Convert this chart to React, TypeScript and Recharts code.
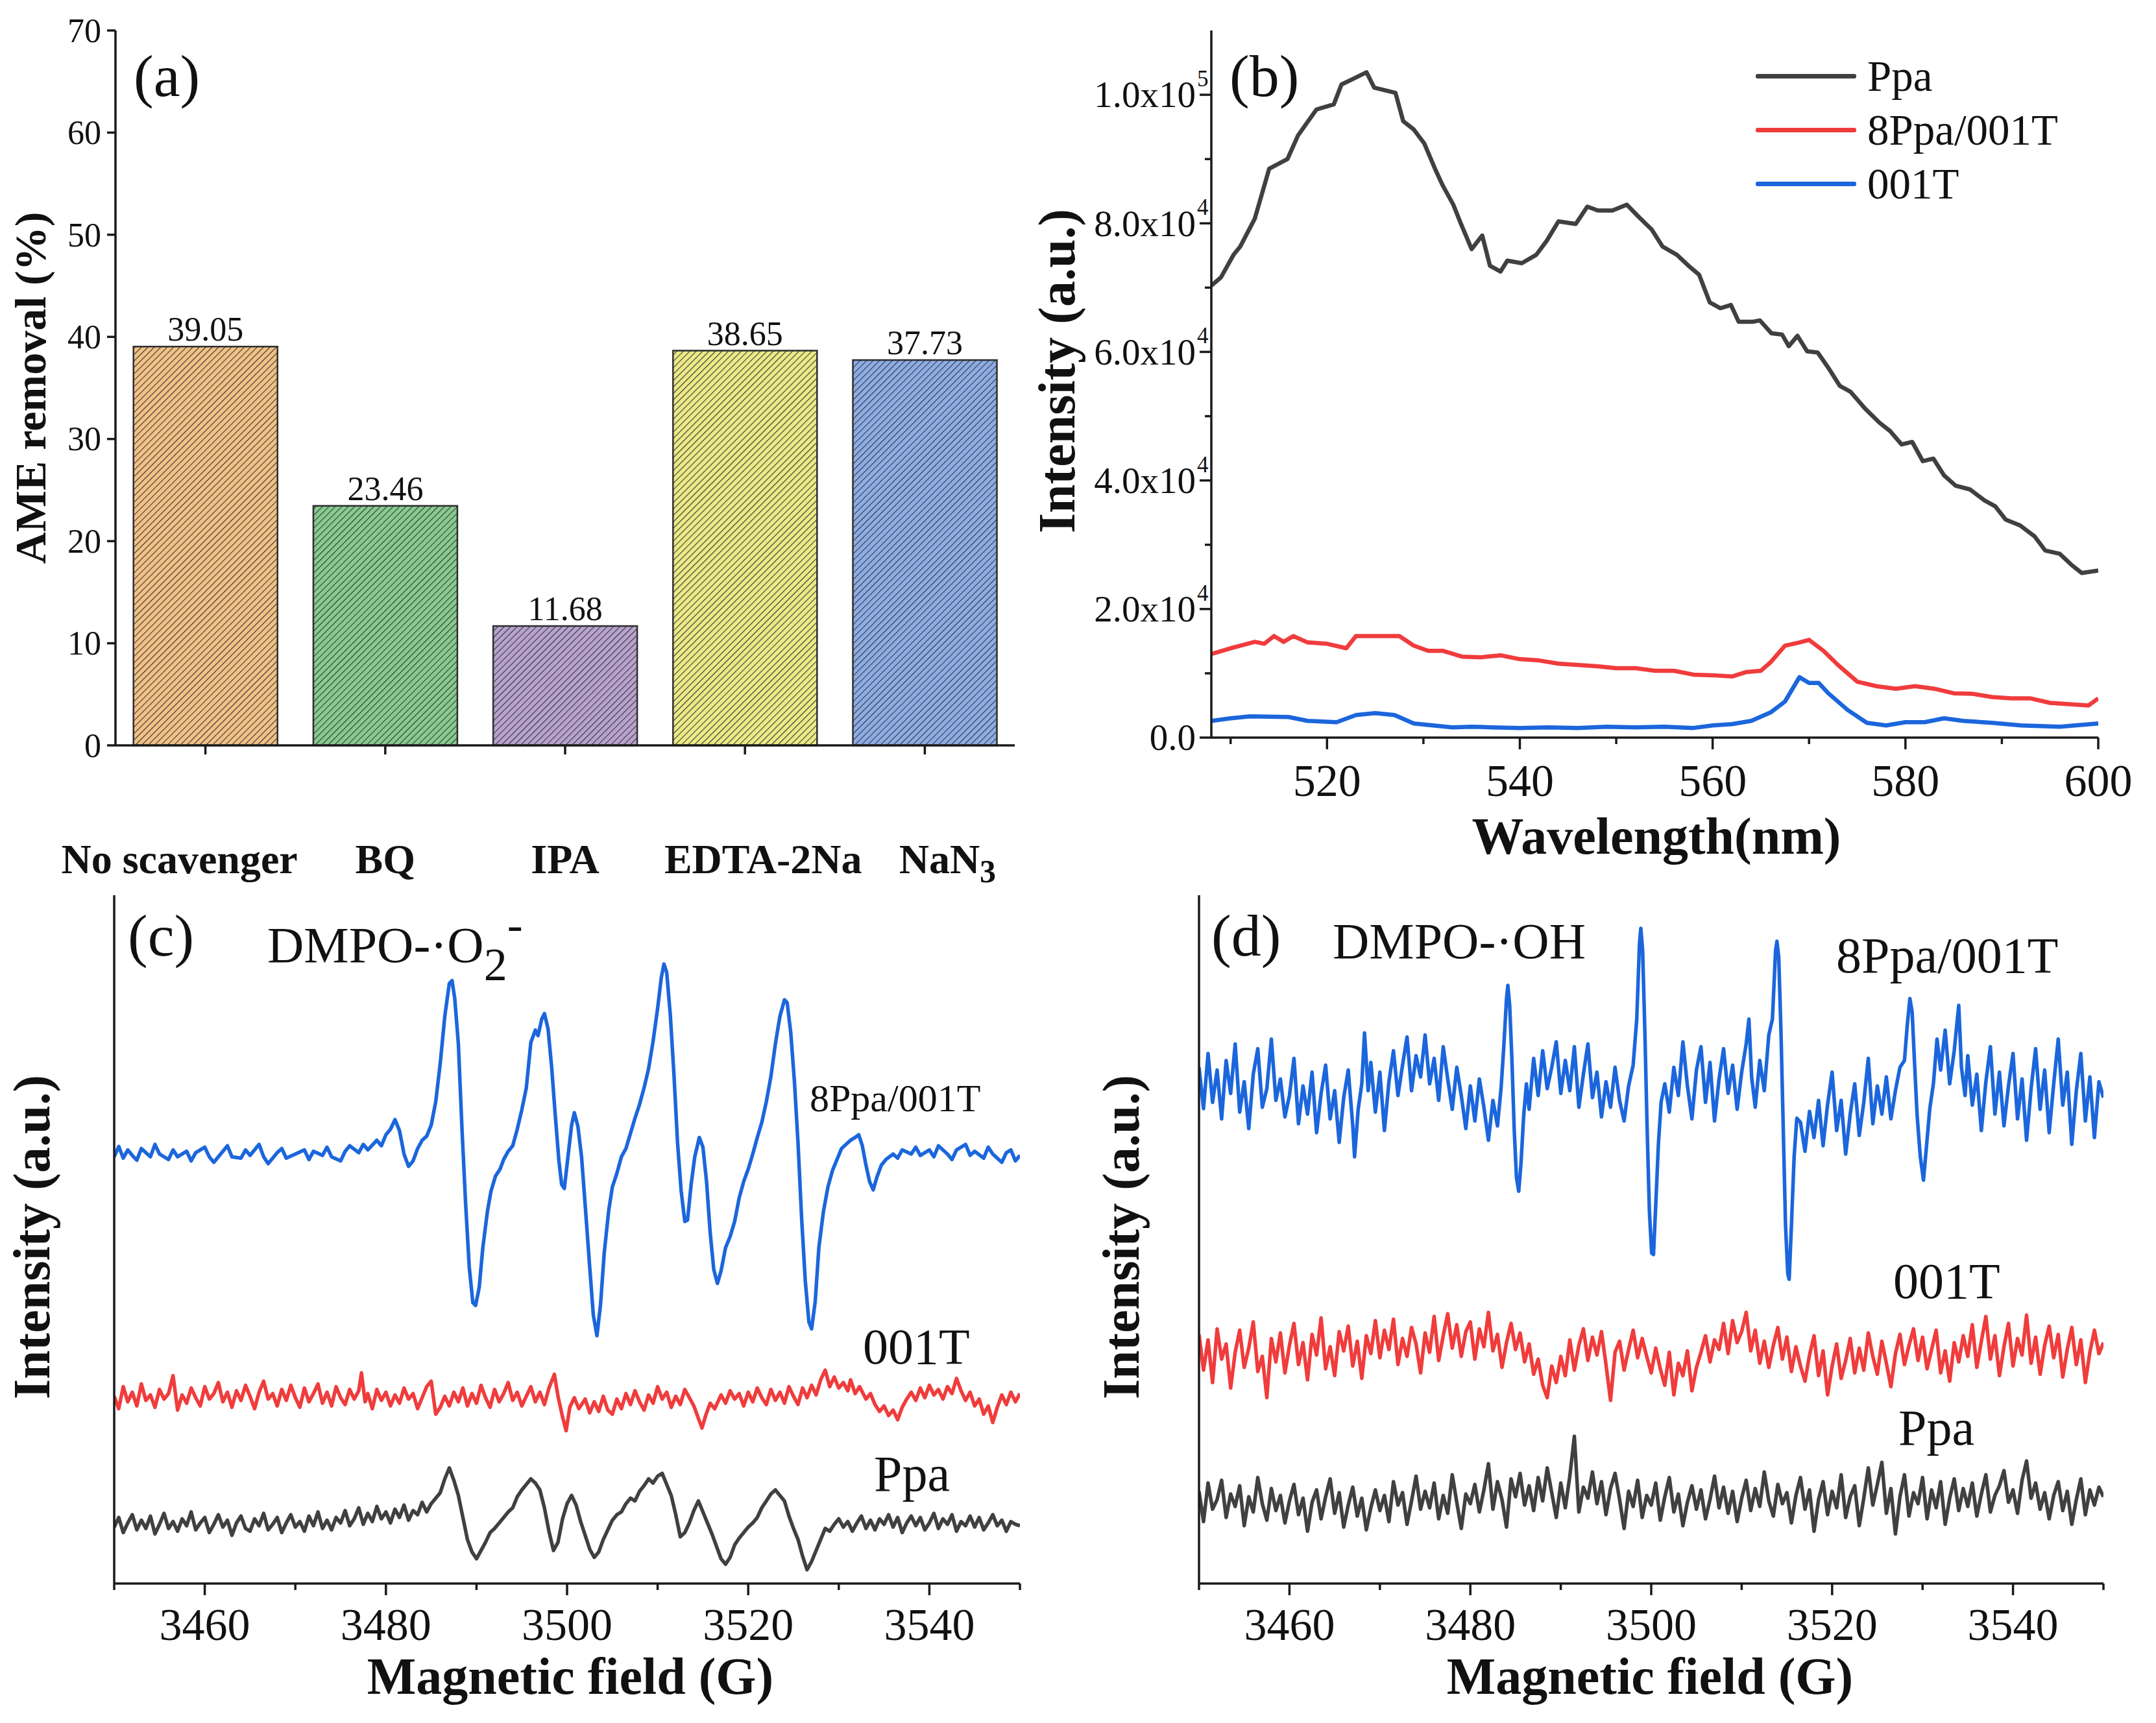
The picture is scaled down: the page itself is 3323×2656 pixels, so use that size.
import React from "react";
import {
  Bar,
  BarChart,
  Cell,
  LabelList,
  Legend,
  Line,
  LineChart,
  XAxis,
  YAxis,
} from "recharts";

const serif = "'Liberation Serif', 'Times New Roman', Times, serif";
const ink = "#1a1a1a";
const AXIS_W = 3.5;

// ---- (a) scavenger tests ----
const scavengers = ["No scavenger", "BQ", "IPA", "EDTA-2Na", "NaN3"];
const removal = [39.05, 23.46, 11.68, 38.65, 37.73];
const removalTicks = [0, 10, 20, 30, 40, 50, 60, 70];
const barColors = ["#F3C185", "#86CB8F", "#B8A2CE", "#ECEA86", "#8CADE6"];
const categoryShift = [-40, 0, 0, 28, 35];

// ---- (b) PL spectra, [nm, counts] ----
const wavelengthTicks = [510, 520, 530, 540, 550, 560, 570, 580, 590, 600];
const plIntensityTicks = [0, 1e4, 2e4, 3e4, 4e4, 5e4, 6e4, 7e4, 8e4, 9e4, 1e5];
const plSeriesOrder = ["Ppa", "8Ppa/001T", "001T"];

const plPpa = [
  [508, 70300], [509, 71600], [510.3, 75100], [511, 76400], [512.5, 80700],
  [514, 88500], [515.9, 90000], [517, 93700], [518.9, 97700], [520.7, 98500],
  [521.5, 101600], [522.6, 102400], [524.1, 103500], [524.9, 101100], [526, 100700],
  [527.1, 100300], [527.9, 95900], [529, 94600], [530.1, 92400], [531.2, 88500],
  [532, 85900], [533.1, 82900], [533.9, 79900], [535, 76000], [536.1, 78100],
  [536.9, 73400], [538, 72500], [538.7, 74200], [540.2, 73800], [541.7, 75100],
  [542.8, 77300], [544, 80300], [545.8, 79900], [547, 82600], [548.1, 82000],
  [549.6, 82000], [551.1, 82900], [552.2, 81200], [553.7, 79000], [554.8, 76400],
  [556.3, 75100], [557.5, 73400], [558.6, 72000], [559.7, 67700], [560.8, 66800],
  [561.9, 67300], [562.7, 64700], [564.2, 64700], [564.9, 64900], [566.1, 62900],
  [567.2, 62700], [567.9, 60900], [568.8, 62500], [569.8, 60100], [570.9, 59900],
  [572.1, 57300], [573.2, 54700], [574.3, 53800], [575.8, 51200], [577.3, 49000],
  [578.4, 47700], [579.6, 45600], [580.7, 46000], [581.8, 43000], [582.9, 43400],
  [584, 40800], [585.2, 39200], [586.7, 38600], [588.2, 36900], [589.3, 36000],
  [590.4, 33900], [591.9, 33000], [593.4, 31300], [594.5, 29100], [596, 28600],
  [597.2, 26900], [598.3, 25600], [600, 26000],
];

const pl8Ppa001T = [
  [508, 13000], [510, 13900], [511, 14300], [512.5, 14900], [513.5, 14600],
  [514.5, 15800], [515.5, 14900], [516.5, 15800], [518, 14800], [520, 14600],
  [522, 13900], [523, 15800], [525, 15800], [527.5, 15800], [529, 14300],
  [530.5, 13500], [532, 13500], [534, 12600], [536, 12500], [538, 12800],
  [540, 12200], [542, 12000], [544, 11500], [546, 11300], [548, 11100],
  [550, 10800], [552, 10800], [554, 10400], [556, 10400], [558, 9800],
  [560, 9700], [562, 9500], [563.5, 10200], [565, 10400], [566, 11700],
  [567.5, 14300], [569, 14800], [570, 15200], [571.5, 13500], [573, 11300],
  [575, 8700], [577, 8000], [579, 7600], [581, 8000], [583, 7600],
  [585, 6900], [587, 6800], [589, 6300], [591, 6100], [593, 6100],
  [595, 5400], [597, 5200], [599, 5000], [600, 6100],
];

const pl001T = [
  [508, 2600], [510, 3000], [512, 3300], [516, 3200], [518, 2600],
  [521, 2400], [523, 3500], [525, 3800], [527, 3500], [529, 2200],
  [531, 1900], [533, 1600], [535, 1700], [537, 1600], [540, 1500],
  [543, 1600], [546, 1500], [549, 1700], [552, 1600], [555, 1700],
  [558, 1500], [560, 1900], [562, 2100], [564, 2600], [566, 3900],
  [567.5, 5600], [569, 9400], [570, 8500], [571, 8500], [572, 6900],
  [574, 4300], [576, 2300], [578, 1900], [580, 2400], [582, 2400],
  [584, 3000], [586, 2600], [589, 2300], [592, 1900], [596, 1700],
  [600, 2200],
];

// ---- (c), (d) EPR spectra, magnetic field in G, intensity in stacked a.u. ----
const fieldTicks = [3450, 3460, 3470, 3480, 3490, 3500, 3510, 3520, 3530, 3540, 3550];
const fieldGrid = Array.from({ length: 201 }, (_, i) => 3450 + i * 0.5);

const superoxide8Ppa001T = [
  [3450, 62.0], [3450.5, 63.5], [3451, 61.8], [3451.5, 63.0], [3452, 62.2], [3452.5, 61.5],
  [3453, 63.2], [3454, 62.0], [3454.5, 63.8], [3455, 62.4], [3456, 61.6], [3456.5, 63.0],
  [3457, 62.0], [3458, 62.8], [3458.5, 61.4], [3459, 62.6], [3460, 63.4], [3460.5, 62.0],
  [3461, 61.2], [3462, 62.8], [3462.5, 63.6], [3463, 62.0], [3464, 61.8], [3464.5, 63.0],
  [3465, 62.2], [3466, 63.8], [3466.5, 62.0], [3467, 61.0], [3468, 62.6], [3468.5, 63.2],
  [3469, 61.8], [3470, 62.4], [3471, 63.0], [3471.5, 61.6], [3472, 62.8], [3473, 62.2],
  [3473.5, 63.4], [3474, 62.0], [3475, 61.4], [3475.5, 62.8], [3476, 63.6], [3477, 62.6],
  [3477.5, 63.8], [3478, 63.0], [3479, 64.4], [3479.5, 63.6], [3480, 65.2], [3480.5, 66.0],
  [3481, 67.4], [3481.5, 65.8], [3482, 62.4], [3482.5, 60.6], [3483, 61.4], [3483.5, 63.2],
  [3484, 64.4], [3484.5, 65.0], [3485, 66.6], [3485.5, 70.0], [3486, 75.6], [3486.5, 82.4],
  [3487, 87.2], [3487.3, 87.6], [3487.6, 85.0], [3488, 78.4], [3488.4, 66.0], [3488.8, 55.2],
  [3489.2, 46.0], [3489.6, 40.8], [3489.9, 40.4], [3490.3, 43.0], [3490.7, 48.8], [3491.2, 54.0],
  [3491.6, 57.0], [3492.1, 59.2], [3492.6, 60.2], [3493, 61.6], [3493.5, 62.8], [3494, 63.6],
  [3494.5, 66.0], [3495, 68.8], [3495.5, 72.0], [3496, 78.6], [3496.5, 80.4], [3496.8, 79.6],
  [3497.2, 82.0], [3497.5, 82.8], [3497.9, 80.6], [3498.3, 75.0], [3498.7, 68.0], [3499.1, 61.4],
  [3499.4, 58.0], [3499.7, 57.4], [3500.1, 62.0], [3500.5, 66.6], [3500.8, 68.4], [3501.2, 66.4],
  [3501.6, 62.0], [3502, 55.0], [3502.5, 46.0], [3502.9, 39.0], [3503.3, 36.0], [3503.7, 40.6],
  [3504.1, 48.0], [3504.6, 54.2], [3505, 57.6], [3505.5, 59.6], [3506, 62.0], [3506.5, 63.2],
  [3507, 65.4], [3507.5, 67.6], [3508, 69.6], [3508.5, 72.0], [3509, 74.8], [3509.5, 78.8],
  [3510, 83.6], [3510.4, 88.0], [3510.7, 90.0], [3511, 88.8], [3511.4, 82.6], [3511.8, 74.0],
  [3512.2, 64.0], [3512.6, 57.0], [3513, 52.6], [3513.3, 52.8], [3513.7, 58.0], [3514.1, 62.0],
  [3514.6, 64.8], [3515, 63.4], [3515.4, 58.4], [3515.8, 51.0], [3516.2, 45.6], [3516.6, 43.6],
  [3517, 45.4], [3517.5, 48.8], [3518, 50.4], [3518.5, 52.6], [3519, 56.0], [3519.5, 58.4],
  [3520, 60.2], [3520.5, 62.4], [3521, 64.8], [3521.5, 67.0], [3522, 70.0], [3522.5, 73.6],
  [3523, 78.4], [3523.5, 82.4], [3524, 84.8], [3524.3, 84.4], [3524.7, 80.0], [3525.1, 73.0],
  [3525.5, 64.0], [3525.9, 53.0], [3526.3, 44.0], [3526.7, 38.0], [3527, 37.0], [3527.4, 41.0],
  [3527.8, 48.8], [3528.3, 54.0], [3528.8, 57.6], [3529.3, 60.0], [3529.8, 61.6], [3530.3, 63.2],
  [3530.8, 63.8], [3531.3, 64.4], [3531.8, 64.8], [3532.2, 65.2], [3532.6, 63.6], [3533, 60.8],
  [3533.4, 58.4], [3533.8, 57.2], [3534.2, 59.0], [3534.7, 60.8], [3535.2, 61.6], [3536, 62.4],
  [3536.5, 61.8], [3537, 63.0], [3538, 62.4], [3538.5, 63.4], [3539, 62.2], [3540, 63.0],
  [3540.5, 62.0], [3541, 63.6], [3542, 62.4], [3542.5, 61.6], [3543, 63.0], [3544, 63.8],
  [3544.5, 62.2], [3545, 62.8], [3546, 61.8], [3546.5, 63.4], [3547, 62.4], [3548, 61.2],
  [3548.5, 62.6], [3549, 63.0], [3549.5, 61.4], [3550, 62.2],
];

const superoxide001T = [
  [3450, 27.2], [3450.5, 25.4], [3451, 28.6], [3451.5, 26.4], [3452, 27.8], [3452.5, 25.8],
  [3453, 29.0], [3453.5, 26.6], [3454, 27.4], [3454.5, 25.6], [3455, 28.2], [3455.5, 26.8],
  [3456, 27.6], [3456.5, 30.2], [3457, 25.2], [3457.5, 27.4], [3458, 26.2], [3458.5, 28.4],
  [3459, 27.0], [3459.5, 25.8], [3460, 28.6], [3460.5, 26.8], [3461, 27.6], [3461.5, 29.2],
  [3462, 26.4], [3462.5, 27.8], [3463, 25.6], [3463.5, 28.0], [3464, 26.6], [3464.5, 28.8],
  [3465, 27.2], [3465.5, 25.4], [3466, 27.8], [3466.5, 29.4], [3467, 26.8], [3467.5, 27.6],
  [3468, 25.8], [3468.5, 28.2], [3469, 26.6], [3469.5, 28.8], [3470, 27.0], [3470.5, 25.6],
  [3471, 28.4], [3471.5, 26.4], [3472, 27.6], [3472.5, 29.0], [3473, 26.2], [3473.5, 27.8],
  [3474, 25.8], [3474.5, 28.6], [3475, 27.0], [3475.5, 26.0], [3476, 28.2], [3476.5, 26.8],
  [3477, 28.0], [3477.3, 30.6], [3477.7, 26.4], [3478, 27.6], [3478.5, 25.4], [3479, 28.2],
  [3479.5, 26.6], [3480, 27.8], [3480.5, 25.8], [3481, 27.4], [3481.5, 26.2], [3482, 28.4],
  [3482.5, 26.8], [3483, 27.6], [3483.5, 25.4], [3484, 27.0], [3484.5, 28.6], [3485, 29.4],
  [3485.5, 24.6], [3486, 25.6], [3486.5, 27.2], [3487, 25.8], [3487.5, 27.8], [3488, 26.4],
  [3488.5, 28.4], [3489, 25.8], [3489.5, 27.6], [3490, 26.2], [3490.5, 28.8], [3491, 27.0],
  [3491.5, 25.6], [3492, 28.2], [3492.5, 26.4], [3493, 27.6], [3493.5, 29.2], [3494, 26.6],
  [3494.5, 27.8], [3495, 25.8], [3495.5, 27.2], [3496, 28.6], [3496.5, 26.4], [3497, 27.8],
  [3497.5, 26.0], [3498, 28.4], [3498.6, 30.4], [3499, 27.2], [3499.5, 24.2], [3499.9, 22.2],
  [3500.3, 25.6], [3500.8, 27.0], [3501.3, 25.4], [3502, 26.8], [3502.5, 24.8], [3503, 26.4],
  [3503.5, 25.0], [3504, 27.2], [3504.5, 25.2], [3505, 24.6], [3505.5, 26.8], [3506, 25.4],
  [3506.5, 27.6], [3507, 26.0], [3507.5, 28.0], [3508, 26.4], [3508.5, 25.2], [3509, 27.4],
  [3509.5, 26.2], [3510, 28.6], [3510.5, 26.8], [3511, 27.8], [3511.5, 25.6], [3512, 27.2],
  [3512.5, 26.0], [3513, 28.2], [3513.5, 27.0], [3514, 25.8], [3514.5, 24.0], [3514.9, 22.6],
  [3515.3, 24.4], [3515.8, 26.2], [3516.3, 25.4], [3517, 27.4], [3517.5, 26.2], [3518, 28.0],
  [3518.5, 26.8], [3519, 27.6], [3519.5, 25.8], [3520, 27.8], [3520.5, 26.4], [3521, 28.4],
  [3521.5, 27.0], [3522, 26.0], [3522.5, 28.2], [3523, 26.6], [3523.5, 27.8], [3524, 26.2],
  [3524.5, 28.6], [3525, 27.2], [3525.5, 26.0], [3526, 28.4], [3526.5, 27.0], [3527, 28.8],
  [3527.5, 27.4], [3528, 29.6], [3528.5, 31.0], [3529, 28.6], [3529.5, 30.0], [3530, 28.4],
  [3530.5, 29.2], [3531, 28.0], [3531.3, 29.6], [3531.8, 27.6], [3532.3, 28.6], [3533, 26.8],
  [3533.5, 27.6], [3534, 26.0], [3534.5, 25.0], [3535, 25.8], [3535.5, 24.4], [3536, 25.2],
  [3536.5, 23.8], [3537, 25.6], [3537.5, 26.8], [3538, 27.8], [3538.5, 26.6], [3539, 28.4],
  [3539.5, 27.0], [3540, 28.8], [3540.5, 27.4], [3541, 28.2], [3541.5, 26.8], [3542, 28.6],
  [3542.5, 27.6], [3543, 29.8], [3543.5, 28.0], [3544, 26.6], [3544.5, 27.8], [3545, 25.8],
  [3545.5, 26.8], [3546, 24.6], [3546.5, 25.8], [3547, 23.4], [3547.5, 25.6], [3548, 27.4],
  [3548.5, 26.0], [3549, 27.8], [3549.5, 26.4], [3550, 27.6],
];

// sampled every 0.5 G from 3450 G
const superoxidePpa = [
  8.2, 9.6, 7.4, 8.8, 10.0, 7.8, 9.2, 8.0, 9.8, 7.2,
  8.6, 10.2, 8.0, 9.0, 7.6, 9.4, 8.4, 10.4, 7.8, 8.8,
  9.6, 7.4, 8.6, 10.0, 8.2, 9.2, 7.0, 8.8, 9.8, 8.0,
  7.6, 9.4, 8.4, 10.2, 7.8, 8.6, 9.6, 7.4, 8.8, 10.0,
  8.2, 9.0, 7.6, 9.8, 8.4, 10.4, 8.0, 9.2, 7.8, 9.6,
  8.8, 10.6, 8.4, 9.4, 11.0, 8.6, 10.2, 9.0, 11.2, 9.4,
  10.4, 8.8, 10.8, 9.6, 11.4, 9.2, 10.6, 10.0, 11.8, 10.4,
  11.6, 12.4, 13.2, 15.2, 16.8, 15.0, 12.8, 9.6, 6.4, 4.6,
  3.6, 4.8, 6.0, 7.4, 8.0, 8.8, 9.6, 10.4, 11.0, 12.6,
  13.6, 14.4, 15.2, 14.6, 13.6, 11.0, 7.6, 4.8, 6.0, 9.4,
  11.6, 12.8, 11.4, 9.0, 7.0, 5.0, 3.8, 4.6, 6.4, 7.8,
  9.2, 10.0, 10.4, 11.6, 12.4, 12.0, 13.4, 14.2, 15.2, 14.6,
  15.6, 16.0, 14.4, 12.8, 10.0, 6.8, 7.4, 8.8, 10.6, 12.0,
  10.4, 8.8, 7.2, 5.4, 3.6, 2.8, 3.8, 5.6, 6.6, 7.4,
  8.2, 8.8, 9.6, 11.0, 12.0, 13.0, 13.6, 12.8, 12.0, 9.8,
  8.0, 6.4, 4.0, 2.0, 3.2, 4.8, 6.4, 8.0, 7.6, 8.6,
  9.4, 8.2, 9.0, 7.6, 8.8, 9.8, 8.0, 9.2, 7.8, 9.4,
  8.6, 10.0, 8.2, 9.6, 7.4, 8.8, 9.8, 8.4, 9.6, 7.8,
  8.8, 10.2, 8.0, 9.4, 8.6, 10.0, 7.6, 9.0, 8.4, 9.8,
  8.2, 9.6, 7.8, 8.8, 10.0, 8.4, 9.2, 7.6, 9.0, 8.6,
  8.4,
];

const hydroxyl8Ppa001T = [
  [3450, 75.0], [3450.5, 69.0], [3451, 77.0], [3451.5, 69.9], [3452, 74.6], [3452.5, 67.5],
  [3453, 76.0], [3453.5, 71.2], [3454, 78.4], [3454.5, 68.5], [3455, 72.9], [3455.5, 66.1],
  [3456, 74.0], [3456.5, 77.7], [3457, 69.2], [3457.5, 71.9], [3458, 79.1], [3458.5, 70.2],
  [3459, 73.3], [3459.5, 67.8], [3460, 70.9], [3460.5, 76.3], [3461, 66.8], [3461.5, 72.3],
  [3462, 68.2], [3462.5, 74.3], [3463, 65.5], [3463.5, 71.2], [3464, 75.3], [3464.5, 67.5],
  [3465, 71.6], [3465.5, 64.1], [3466, 70.6], [3466.5, 74.6], [3467, 66.5], [3467.2, 62.0],
  [3467.6, 68.9], [3468, 72.6], [3468.3, 80.0], [3468.7, 71.6], [3469, 75.7], [3469.5, 68.5],
  [3470, 74.3], [3470.5, 65.8], [3471, 72.9], [3471.5, 77.4], [3472, 70.9], [3472.5, 75.3],
  [3473, 79.4], [3473.5, 71.6], [3474, 76.7], [3474.5, 73.6], [3475, 79.7], [3475.5, 72.6],
  [3476, 76.3], [3476.5, 70.2], [3477, 78.0], [3477.5, 73.3], [3478, 68.9], [3478.5, 75.0],
  [3479, 70.9], [3479.5, 66.1], [3480, 72.3], [3480.5, 67.2], [3481, 73.3], [3481.5, 69.2],
  [3482, 64.4], [3482.5, 70.2], [3483, 66.5], [3483.4, 72.0], [3483.7, 78.0], [3484, 85.0],
  [3484.15, 86.9], [3484.35, 84.0], [3484.6, 76.0], [3484.85, 66.0], [3485.1, 59.0], [3485.35, 57.0],
  [3485.6, 61.0], [3485.9, 68.0], [3486.2, 72.6], [3486.5, 68.9], [3487, 76.3], [3487.5, 70.9],
  [3488, 77.4], [3488.5, 71.9], [3489, 75.0], [3489.5, 78.7], [3490, 71.2], [3490.5, 76.0],
  [3491, 71.6], [3491.5, 78.0], [3492, 69.2], [3492.5, 74.0], [3493, 78.4], [3493.5, 70.6],
  [3494, 74.3], [3494.5, 67.8], [3495, 72.9], [3495.5, 69.2], [3496, 75.0], [3496.5, 70.2],
  [3497, 67.2], [3497.5, 72.3], [3498, 75.3], [3498.4, 82.0], [3498.7, 93.0], [3498.85, 95.2],
  [3499.05, 92.0], [3499.3, 80.0], [3499.55, 66.0], [3499.8, 54.0], [3500.05, 48.0], [3500.25, 47.8],
  [3500.5, 55.0], [3500.8, 64.0], [3501.1, 70.0], [3501.5, 72.6], [3502, 68.5], [3502.5, 75.0],
  [3503, 70.9], [3503.5, 78.7], [3504, 72.3], [3504.5, 67.5], [3505, 74.6], [3505.5, 78.0],
  [3506, 69.9], [3506.5, 75.7], [3507, 67.2], [3507.5, 73.3], [3508, 77.7], [3508.5, 71.2],
  [3509, 75.3], [3509.5, 68.9], [3510, 74.3], [3510.5, 78.4], [3510.8, 82.0], [3511.1, 73.6],
  [3511.5, 69.2], [3512, 76.0], [3512.5, 71.6], [3513, 79.7], [3513.4, 82.0], [3513.75, 92.0],
  [3513.9, 93.3], [3514.1, 91.0], [3514.35, 80.0], [3514.6, 66.0], [3514.85, 52.0], [3515.1, 45.0],
  [3515.25, 44.2], [3515.5, 52.0], [3515.8, 62.0], [3516.1, 67.6], [3516.5, 67.0], [3517, 62.8],
  [3517.5, 68.6], [3518, 64.8], [3518.5, 70.2], [3519, 63.6], [3519.5, 69.6], [3520, 74.3],
  [3520.5, 65.8], [3521, 70.2], [3521.5, 62.4], [3522, 68.2], [3522.5, 72.6], [3523, 65.1],
  [3523.5, 69.9], [3524, 76.3], [3524.5, 66.8], [3525, 72.3], [3525.5, 68.2], [3526, 73.6],
  [3526.5, 67.5], [3527, 71.6], [3527.5, 75.0], [3528, 76.0], [3528.3, 81.0], [3528.6, 85.0],
  [3528.85, 83.0], [3529.1, 76.0], [3529.4, 68.0], [3529.75, 62.0], [3530.1, 58.6], [3530.4, 63.0],
  [3530.8, 69.0], [3531.2, 72.6], [3531.6, 79.1], [3532, 74.6], [3532.5, 80.4], [3533, 72.6],
  [3533.5, 77.4], [3534, 84.0], [3534.3, 75.0], [3534.7, 70.9], [3535, 76.7], [3535.5, 69.5],
  [3536, 74.0], [3536.5, 65.8], [3537, 72.9], [3537.5, 78.0], [3538, 68.2], [3538.5, 74.3],
  [3539, 66.5], [3539.5, 72.3], [3540, 77.0], [3540.5, 67.5], [3541, 73.3], [3541.5, 64.4],
  [3542, 71.9], [3542.5, 77.7], [3543, 68.9], [3543.5, 74.6], [3544, 65.5], [3544.5, 72.6],
  [3545, 79.1], [3545.5, 69.5], [3546, 74.3], [3546.5, 63.8], [3547, 71.6], [3547.5, 77.0],
  [3548, 67.2], [3548.5, 73.6], [3549, 64.8], [3549.5, 72.9], [3550, 70.6],
];

// sampled every 0.5 G from 3450 G
const hydroxyl001T = [
  36.2, 31.0, 35.4, 29.2, 37.0, 32.6, 34.8, 28.4, 33.6, 36.8,
  31.4, 34.2, 38.0, 30.8, 33.0, 27.0, 35.6, 32.2, 36.4, 30.6,
  34.6, 37.8, 31.8, 35.0, 29.6, 36.2, 33.2, 38.6, 31.2, 34.4,
  30.2, 36.6, 33.8, 37.4, 31.6, 35.2, 29.8, 36.0, 33.4, 38.2,
  32.8, 36.8, 34.0, 38.4, 31.8, 35.6, 33.0, 37.2, 34.8, 30.6,
  36.4, 33.6, 38.8, 32.4, 36.0, 39.2, 34.2, 37.6, 33.0, 36.6,
  38.0, 32.6, 37.0, 34.4, 39.4, 33.8, 36.2, 31.4, 35.0, 37.8,
  34.0, 36.4, 32.2, 34.8, 30.4, 32.6, 28.8, 27.0, 31.6, 29.2,
  33.0, 30.2, 35.4, 31.0, 34.6, 37.0, 32.4, 35.8, 33.2, 36.6,
  31.8, 26.6, 33.6, 35.2, 31.0, 34.0, 36.8, 32.8, 35.6, 33.0,
  30.6, 34.2, 31.2, 28.8, 33.6, 27.4, 32.0, 30.2, 33.8, 28.0,
  31.4, 33.6, 36.0, 32.2, 35.4, 34.0, 37.8, 33.4, 38.2, 35.0,
  36.6, 39.4, 33.8, 36.8, 32.0, 35.2, 31.4, 34.6, 37.2, 32.6,
  35.8, 30.8, 34.4, 31.6, 29.4, 33.2, 36.0, 30.2, 33.8, 27.4,
  31.6, 34.8, 29.8, 32.4, 35.6, 30.6, 34.2, 31.0, 36.4, 33.0,
  30.4, 35.2, 32.0, 28.6, 33.4, 36.2, 31.8, 34.6, 37.0, 32.4,
  35.8, 31.2, 34.0, 36.8, 30.6, 33.8, 29.4, 35.0, 32.2, 36.0,
  33.0, 37.6, 31.4, 35.2, 38.8, 32.6, 36.0, 30.2, 34.4, 37.8,
  31.6, 35.6, 33.2, 39.0, 32.0, 35.8, 30.4, 34.6, 37.4, 32.8,
  36.2, 30.0, 34.0, 37.2, 31.8, 35.4, 29.2, 33.6, 36.8, 33.4,
  35.0,
];

// sampled every 0.5 G from 3450 G
const hydroxylPpa = [
  13.4, 9.0, 14.6, 10.8, 12.2, 15.0, 9.6, 13.0, 11.2, 14.2,
  8.4, 12.6, 10.4, 15.4, 11.6, 9.2, 13.8, 10.6, 12.8, 8.8,
  12.0, 14.4, 10.0, 12.4, 7.6, 11.8, 13.6, 9.4, 12.6, 15.2,
  10.2, 13.2, 8.2, 11.4, 14.0, 9.8, 12.4, 7.8, 11.0, 13.6,
  10.6, 12.8, 9.0, 14.8, 11.4, 13.2, 8.6, 12.0, 15.6, 10.8,
  13.4, 11.0, 14.6, 9.4, 12.8, 10.2, 15.8, 11.8, 8.0, 13.0,
  11.6, 14.4, 10.4, 13.6, 17.4, 10.8, 14.8, 12.2, 8.2, 15.2,
  12.6, 16.0, 11.4, 14.2, 10.6, 15.4, 12.0, 16.8, 13.2, 9.6,
  14.6, 11.0, 15.6, 21.4, 10.4, 14.0, 12.4, 16.2, 11.6, 14.8,
  10.0, 13.8, 16.0, 12.2, 8.0, 13.4, 11.2, 15.0, 9.6, 12.8,
  11.4, 14.6, 9.2, 12.6, 15.4, 10.4, 13.0, 8.4, 11.8, 14.2,
  10.8, 13.6, 9.4, 12.2, 15.6, 11.0, 14.0, 10.2, 13.4, 9.0,
  12.4, 15.0, 10.6, 13.8, 11.2, 16.2, 12.0, 9.8, 14.4, 11.6,
  13.2, 8.8, 12.8, 15.4, 10.8, 13.6, 7.6, 12.2, 14.8, 10.0,
  13.4, 11.0, 15.8, 9.6, 12.6, 14.2, 8.4, 12.4, 16.8, 11.4,
  14.4, 17.6, 10.2, 13.8, 7.2, 12.6, 15.8, 9.8, 13.2, 11.6,
  15.4, 9.4, 13.6, 11.0, 14.8, 8.6, 12.4, 15.2, 10.6, 13.8,
  11.2, 14.6, 9.8, 13.0, 15.8, 10.4, 12.8, 14.2, 16.4, 11.8,
  13.6, 10.2, 15.0, 17.8, 12.4, 14.6, 10.8, 13.2, 9.4, 12.8,
  14.8, 10.6, 13.4, 8.6, 12.2, 15.2, 10.0, 13.6, 11.4, 14.0,
  12.6,
];

const GRAY = "#404040";
const RED = "#F03C3C";
const BLUE = "#1B66DC";

const fromPairs = (pairs: number[][]) => pairs.map(([x, y]) => ({ x, y }));
const onFieldGrid = (values: number[]) => values.map((y, i) => ({ x: fieldGrid[i], y }));

const barData = scavengers.map((name, i) => ({ name, removal: removal[i] }));

const axisLine = { stroke: ink, strokeWidth: AXIS_W };

// ---------- tick renderers ----------
const categoryTick = (p: any) => {
  const label: string = p.payload.value;
  const sub = label.match(/^(.*[A-Za-z])(\d)$/);
  const cx = p.x + (categoryShift[p.index] ?? 0);
  return (
    <g>
      <line x1={p.x} y1={p.y} x2={p.x} y2={p.y + 14} stroke={ink} strokeWidth={AXIS_W} />
      <text x={cx} y={p.y + 197} textAnchor="middle" fontFamily={serif} fontWeight="bold" fontSize={64} fill="#111">
        {sub ? (
          <>
            {sub[1]}
            <tspan dy={14} fontSize={50}>{sub[2]}</tspan>
          </>
        ) : (
          label
        )}
      </text>
    </g>
  );
};

const removalTick = (p: any) => (
  <g>
    <line x1={p.x} y1={p.y} x2={p.x - 13} y2={p.y} stroke={ink} strokeWidth={AXIS_W} />
    <text x={p.x - 22} y={p.y} dy="0.34em" textAnchor="end" fontFamily={serif} fontSize={52} fill="#111">
      {p.payload.value}
    </text>
  </g>
);

const bottomNumberTick = (labelEvery: number, fontSize: number, labelDy: number) => (p: any) => {
  const v: number = p.payload.value;
  const major = v % labelEvery === 0;
  return (
    <g>
      <line x1={p.x} y1={p.y} x2={p.x} y2={p.y + (major ? 18 : 10)} stroke={ink} strokeWidth={AXIS_W} />
      {major && (
        <text x={p.x} y={p.y + labelDy} textAnchor="middle" fontFamily={serif} fontSize={fontSize} fill="#111">
          {v}
        </text>
      )}
    </g>
  );
};

const sciParts = (v: number): [string, string] => {
  if (v === 0) return ["0.0", ""];
  const e = Math.floor(Math.log10(v) + 1e-9);
  return [`${(v / 10 ** e).toFixed(1)}x10`, String(e)];
};

const intensityTick = (p: any) => {
  const v: number = p.payload.value;
  const major = (v / 1e4) % 2 === 0;
  const [mant, exp] = sciParts(v);
  return (
    <g>
      <line x1={p.x} y1={p.y} x2={p.x - (major ? 18 : 10)} y2={p.y} stroke={ink} strokeWidth={AXIS_W} />
      {major && (
        <>
          <text x={p.x - 24} y={p.y} dy="0.34em" textAnchor="end" fontFamily={serif} fontSize={57} fill="#111">
            {mant}
          </text>
          {exp && (
            <text x={p.x - 22} y={p.y - 13} textAnchor="start" fontFamily={serif} fontSize={35} fill="#111">
              {exp}
            </text>
          )}
        </>
      )}
    </g>
  );
};

// legend rows follow the drawing order of the series
const plLegend = (props: any) => {
  const items = [...(props.payload ?? [])].sort(
    (a: any, b: any) => plSeriesOrder.indexOf(a.value) - plSeriesOrder.indexOf(b.value)
  );
  return (
    <div>
      {items.map((item: any) => (
        <div key={item.value} style={{ display: "flex", alignItems: "center", height: 83 }}>
          <span
            style={{
              display: "inline-block",
              width: 155,
              height: 7,
              borderRadius: 3,
              background: item.color,
              marginRight: 17,
            }}
          />
          <span style={{ fontFamily: serif, fontSize: 67, lineHeight: 1, color: "#111" }}>{item.value}</span>
        </div>
      ))}
    </div>
  );
};

const txt = (fontSize: number, bold = false) => ({
  fontFamily: serif,
  fontSize,
  fontWeight: bold ? ("bold" as const) : ("normal" as const),
  fill: "#111",
});

// ---------- panels ----------
const PanelA = () => (
  <div style={{ position: "absolute", left: 0, top: 0 }}>
    <BarChart
      width={1620}
      height={1400}
      data={barData}
      margin={{ top: 47, right: 56, bottom: 0, left: 0 }}
      barCategoryGap="10%"
    >
      <defs>
        {barColors.map((c, i) => (
          <pattern
            key={c}
            id={`hatch${i}`}
            width={7}
            height={7}
            patternUnits="userSpaceOnUse"
            patternTransform="rotate(45)"
          >
            <rect width={7} height={7} fill={c} />
            <line x1={0} y1={0} x2={0} y2={7} stroke="#3a3a3a" strokeWidth={2.3} />
          </pattern>
        ))}
      </defs>
      <XAxis
        dataKey="name"
        height={251}
        interval={0}
        tickSize={0}
        tickMargin={0}
        tickLine={false}
        tick={categoryTick}
        axisLine={axisLine}
      />
      <XAxis xAxisId="top" orientation="top" dataKey="name" height={0} tick={false} tickLine={false} axisLine={axisLine} />
      <YAxis
        width={178}
        domain={[0, 70]}
        ticks={removalTicks}
        interval={0}
        tickSize={0}
        tickMargin={0}
        tickLine={false}
        tick={removalTick}
        axisLine={axisLine}
      />
      <YAxis yAxisId="right" orientation="right" width={0} domain={[0, 70]} tick={false} tickLine={false} axisLine={axisLine} />
      <Bar dataKey="removal" isAnimationActive={false} stroke="#2e2e2e" strokeWidth={2.5}>
        {barData.map((d, i) => (
          <Cell key={d.name} fill={`url(#hatch${i})`} />
        ))}
        <LabelList
          dataKey="removal"
          position="top"
          offset={9}
          formatter={(v: any) => Number(v).toFixed(2)}
          fontFamily={serif}
          fontSize={52}
          fill="#111"
        />
      </Bar>
      <text x={206} y={148} {...txt(92)}>(a)</text>
      <text x={70} y={598} textAnchor="middle" transform="rotate(-90 70 598)" {...txt(68, true)}>
        AME removal (%)
      </text>
    </BarChart>
  </div>
);

const PanelB = () => (
  <div style={{ position: "absolute", left: 1560, top: 0 }}>
    <LineChart width={1763} height={1400} margin={{ top: 47, right: 89, bottom: 0, left: 0 }}>
      <XAxis
        type="number"
        dataKey="x"
        domain={[508, 600]}
        allowDataOverflow
        ticks={wavelengthTicks}
        interval={0}
        height={263}
        tickSize={0}
        tickMargin={0}
        tickLine={false}
        tick={bottomNumberTick(20, 70, 90)}
        axisLine={axisLine}
      />
      <XAxis xAxisId="top" orientation="top" type="number" domain={[508, 600]} height={0} tick={false} tickLine={false} axisLine={axisLine} />
      <YAxis
        type="number"
        domain={[0, 110000]}
        allowDataOverflow
        ticks={plIntensityTicks}
        interval={0}
        width={307}
        tickSize={0}
        tickMargin={0}
        tickLine={false}
        tick={intensityTick}
        axisLine={axisLine}
      />
      <YAxis yAxisId="right" orientation="right" width={0} domain={[0, 110000]} tick={false} tickLine={false} axisLine={axisLine} />
      <Line data={fromPairs(plPpa)} dataKey="y" name="Ppa" stroke={GRAY} strokeWidth={6.5} strokeLinejoin="round" dot={false} activeDot={false} type="linear" isAnimationActive={false} />
      <Line data={fromPairs(pl8Ppa001T)} dataKey="y" name="8Ppa/001T" stroke={RED} strokeWidth={6.5} strokeLinejoin="round" dot={false} activeDot={false} type="linear" isAnimationActive={false} />
      <Line data={fromPairs(pl001T)} dataKey="y" name="001T" stroke={BLUE} strokeWidth={6.5} strokeLinejoin="round" dot={false} activeDot={false} type="linear" isAnimationActive={false} />
      <Legend
        layout="horizontal"
        verticalAlign="middle"
        align="center"
        content={plLegend}
        wrapperStyle={{ left: 1146, top: 76, width: 560, height: 260 }}
      />
      <text x={335} y={148} {...txt(92)}>(b)</text>
      <text x={96} y={572} textAnchor="middle" transform="rotate(-90 96 572)" {...txt(80, true)}>
        Intensity (a.u.)
      </text>
      <text x={993} y={1316} textAnchor="middle" {...txt(80, true)}>Wavelength(nm)</text>
    </LineChart>
  </div>
);

const eprLine = (data: any[], name: string, color: string) => (
  <Line
    key={name}
    data={data}
    dataKey="y"
    name={name}
    stroke={color}
    strokeWidth={5.5}
    strokeLinejoin="round"
    dot={false}
    activeDot={false}
    type="linear"
    isAnimationActive={false}
  />
);

const EprAxes = (yAxisWidth: number) => [
  <XAxis
    key="x"
    type="number"
    dataKey="x"
    domain={[3450, 3550]}
    allowDataOverflow
    ticks={fieldTicks}
    interval={0}
    height={215}
    tickSize={0}
    tickMargin={0}
    tickLine={false}
    tick={bottomNumberTick(20, 70, 87)}
    axisLine={axisLine}
  />,
  <XAxis key="xt" xAxisId="top" orientation="top" type="number" domain={[3450, 3550]} height={0} tick={false} tickLine={false} axisLine={axisLine} />,
  <YAxis key="y" type="number" domain={[0, 100]} width={yAxisWidth} tick={false} tickLine={false} axisLine={axisLine} />,
  <YAxis key="yr" yAxisId="right" orientation="right" width={0} domain={[0, 100]} tick={false} tickLine={false} axisLine={axisLine} />,
];

const PanelC = () => (
  <div style={{ position: "absolute", left: 0, top: 1340 }}>
    <LineChart width={1620} height={1316} margin={{ top: 40, right: 48, bottom: 0, left: 0 }}>
      {EprAxes(176)}
      {eprLine(onFieldGrid(superoxidePpa), "Ppa", GRAY)}
      {eprLine(fromPairs(superoxide001T), "001T", RED)}
      {eprLine(fromPairs(superoxide8Ppa001T), "8Ppa/001T", BLUE)}
      <text x={197} y={133} {...txt(92)}>(c)</text>
      <text x={412} y={143} {...txt(78)}>
        DMPO-·O
        <tspan dy={28} fontSize={72}>2</tspan>
        <tspan dy={-62} fontSize={72}>-</tspan>
      </text>
      <text x={1248} y={373} {...txt(60)}>8Ppa/001T</text>
      <text x={1330} y={762} {...txt(78)}>001T</text>
      <text x={1347} y={958} {...txt(78)}>Ppa</text>
      <text x={76} y={567} textAnchor="middle" transform="rotate(-90 76 567)" {...txt(80, true)}>
        Intensity (a.u.)
      </text>
      <text x={879} y={1271} textAnchor="middle" {...txt(80, true)}>Magnetic field (G)</text>
    </LineChart>
  </div>
);

const PanelD = () => (
  <div style={{ position: "absolute", left: 1660, top: 1340 }}>
    <LineChart width={1663} height={1316} margin={{ top: 40, right: 81, bottom: 0, left: 0 }}>
      {EprAxes(188)}
      {eprLine(onFieldGrid(hydroxylPpa), "Ppa", GRAY)}
      {eprLine(onFieldGrid(hydroxyl001T), "001T", RED)}
      {eprLine(fromPairs(hydroxyl8Ppa001T), "8Ppa/001T", BLUE)}
      <text x={207} y={133} {...txt(92)}>(d)</text>
      <text x={394} y={137} {...txt(78)}>DMPO-·OH</text>
      <text x={1170} y={159} {...txt(78)}>8Ppa/001T</text>
      <text x={1258} y={661} {...txt(78)}>001T</text>
      <text x={1266} y={887} {...txt(78)}>Ppa</text>
      <text x={95} y={567} textAnchor="middle" transform="rotate(-90 95 567)" {...txt(80, true)}>
        Intensity (a.u.)
      </text>
      <text x={883} y={1271} textAnchor="middle" {...txt(80, true)}>Magnetic field (G)</text>
    </LineChart>
  </div>
);

export default function App() {
  return (
    <div
      style={{
        position: "absolute",
        left: 0,
        top: 0,
        width: 3323,
        height: 2656,
        background: "#fff",
        overflow: "hidden",
      }}
    >
      <PanelA />
      <PanelB />
      <PanelC />
      <PanelD />
    </div>
  );
}
